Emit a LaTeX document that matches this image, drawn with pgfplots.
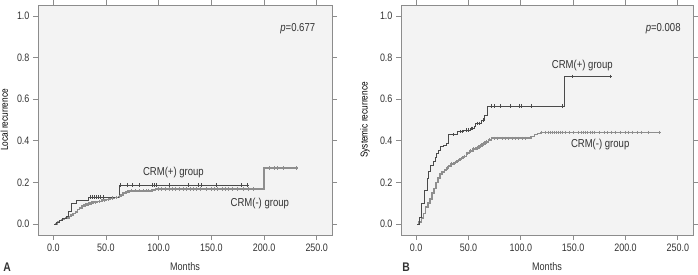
\documentclass[border=0pt]{standalone}
\usepackage{fontspec}
\setmainfont[FakeStretch=0.83]{Liberation Sans}
\usepackage{pgfplots}
\pgfplotsset{compat=1.18}
\definecolor{framec}{HTML}{8C8C8C}
\definecolor{txt}{HTML}{333333}
\definecolor{plusc}{HTML}{4A4A4A}
\definecolor{minusc}{HTML}{8E8E8E}
\definecolor{bg}{HTML}{F3F3F3}
\tikzset{grp/.style={font=\fontsize{11.5}{13}\selectfont, text=txt}}
\pgfplotsset{
  km/.style={
    scale only axis, anchor=south west,
    height=230pt,
    xmin=-14.5, xmax=264.5, ymin=-0.053, ymax=1.053,
    xtick={0,50,100,150,200,250},
    xticklabels={0.0,50.0,100.0,150.0,200.0,250.0},
    ytick={0,0.2,0.4,0.6,0.8,1.0},
    yticklabels={0.0,0.2,0.4,0.6,0.8,1.0},
    tick align=outside, major tick length=5pt,
    tick style={framec, line width=0.7pt},
    axis line style={framec, line width=0.9pt},
    axis background/.style={fill=bg},
    ticklabel style={font=\fontsize{10.8}{12}\selectfont, text=txt},
    label style={font=\fontsize{11}{12}\selectfont, text=txt},
    xlabel=Months,
    xlabel style={at={(axis description cs:0.5,-0.139)}, anchor=center},
    every axis y label/.style={rotate=90, anchor=center},
    clip=false,
  },
  plusline/.style={const plot, plusc, line width=0.7pt, no marks},
  minusline/.style={const plot, minusc, line width=1.7pt, no marks},
  plusmark/.style={only marks, mark=+, mark size=1.7pt, plusc, mark options={line width=0.6pt}},
  minusmark/.style={only marks, mark=+, mark size=1.7pt, minusc, mark options={line width=0.7pt}},
}
\begin{document}
\begin{tikzpicture}
\useasboundingbox (0,0) rectangle (698pt,275pt);
% ---------- Panel A ----------
\begin{axis}[km, at={(38pt,40pt)}, width=294pt,
  ylabel={Local recurrence},
  ylabel style={at={(axis description cs:-0.115,0.5)}}]
\addplot[minusline] coordinates {
(2,0) (4,0.008) (6,0.016) (8,0.022) (10,0.026) (12,0.03) (15,0.036) (17,0.044)
(19,0.05) (21,0.058) (23,0.07) (25,0.078) (27,0.086) (29,0.092) (32,0.096)
(35,0.1) (38,0.104) (42,0.108) (46,0.114) (50,0.118) (54,0.124) (58,0.128)
(62,0.132) (64,0.14) (66,0.148) (69,0.155) (72,0.16) (94,0.165) (97,0.168)
(200,0.27) (232,0.27)};
\addplot[minusmark] coordinates {
(30,0.092) (33,0.096) (36,0.1) (40,0.104) (44,0.108) (48,0.114) (52,0.118)
(56,0.124) (60,0.128) (63,0.132) (70,0.155) (74,0.16) (78,0.16) (82,0.16)
(85,0.16) (88,0.16) (90,0.16) (100,0.168) (103,0.168) (106,0.168) (110,0.168)
(113,0.168) (116,0.168) (120,0.168) (123,0.168) (126,0.168) (130,0.168)
(133,0.168) (136,0.168) (140,0.168) (145,0.168) (150,0.168) (153,0.168)
(156,0.168) (160,0.168) (163,0.168) (166,0.168) (170,0.168) (175,0.168)
(180,0.168) (185,0.168) (190,0.168) (205,0.27) (210,0.27) (213,0.27)
(218,0.27) (231,0.27)};
\addplot[plusline] coordinates {
(1,0) (3,0.009) (6,0.018) (9,0.027) (12,0.036) (14,0.06) (17,0.10) (22,0.115)
(33,0.13) (63,0.1875) (184,0.1875)};
\addplot[plusmark] coordinates {
(35,0.13) (37,0.13) (39,0.13) (41,0.13) (43,0.13) (45,0.13) (47,0.13)
(64,0.1875) (70,0.1875) (75,0.1875) (82,0.1875) (94,0.1875) (96,0.1875)
(98,0.1875) (110,0.1875) (128,0.1875) (138,0.1875) (140,0.1875) (155,0.1875)
(178,0.1875) (184,0.1875)};
\node[grp] at (axis cs:114,0.245) {CRM(+) group};
\node[grp] at (axis cs:196,0.10) {CRM(-) group};
\node[grp] at (axis cs:232,0.9375) {\textit{p}=0.677};
\end{axis}
% ---------- Panel B ----------
\begin{axis}[km, at={(401pt,40pt)}, width=292pt,
  ylabel={Systemic recurrence},
  ylabel style={at={(axis description cs:-0.123,0.5)}}]
\addplot[minusline] coordinates {
(2,0) (3,0.011) (5,0.03) (7,0.05) (9,0.08) (11,0.1) (13,0.12) (15,0.15)
(17,0.17) (19,0.2) (21,0.22) (23,0.24) (25,0.25) (27,0.26) (29,0.27) (31,0.28)
(33,0.29) (36,0.295) (39,0.305) (42,0.315) (45,0.325) (48,0.34) (51,0.35)
(54,0.36) (57,0.365) (60,0.375) (63,0.385) (66,0.395) (69,0.405) (72,0.412)
(107,0.415) (110,0.42) (113,0.43) (116,0.435) (119,0.44) (233,0.44)};
\addplot[minusmark] coordinates {
(30,0.27) (34,0.29) (37,0.295) (40,0.305) (43,0.315) (46,0.325) (49,0.34)
(52,0.35) (55,0.36) (58,0.365) (61,0.375) (64,0.385) (67,0.395) (70,0.405)
(75,0.412) (78,0.412) (82,0.412) (85,0.412) (88,0.412) (92,0.412) (95,0.412)
(98,0.412) (101,0.412) (104,0.412) (120,0.44) (123,0.44) (126,0.44) (128,0.44)
(130,0.44) (132,0.44) (134,0.44) (136,0.44) (138,0.44) (140,0.44) (143,0.44)
(146,0.44) (150,0.44) (155,0.44) (158,0.44) (160,0.44) (162,0.44) (164,0.44)
(166,0.44) (168,0.44) (170,0.44) (175,0.44) (180,0.44) (183,0.44) (186,0.44)
(190,0.44) (195,0.44) (200,0.44) (203,0.44) (207,0.44) (211,0.44) (215,0.44)
(222,0.44) (232,0.44)};
\addplot[plusline] coordinates {
(1,0) (3,0.03) (5,0.1) (8,0.16) (11,0.22) (12,0.255) (14,0.28) (16,0.30)
(18,0.32) (19,0.34) (21,0.355) (23,0.372) (26,0.38) (29,0.39) (31,0.43)
(36,0.432) (39,0.444) (45,0.452) (52,0.46) (56,0.47) (57,0.484) (62,0.5)
(65,0.524) (68,0.567) (142,0.71) (185,0.71)};
\addplot[plusmark] coordinates {
(35,0.43) (42,0.444) (44,0.444) (48,0.452) (50,0.452) (53,0.46) (54,0.46)
(58,0.484) (60,0.484) (64,0.5) (72,0.567) (75,0.567) (80,0.567) (90,0.567)
(99,0.567) (100,0.567) (110,0.567) (140,0.567) (149,0.71) (185,0.71)};
\node[grp] at (axis cs:158.7,0.76) {CRM(+) group};
\node[grp] at (axis cs:175.8,0.38) {CRM(-) group};
\node[grp] at (axis cs:236,0.9375) {\textit{p}=0.008};
\end{axis}
\node[font=\bfseries\fontsize{12.5}{14}\selectfont, text=txt] at (7pt,8pt) {A};
\node[font=\bfseries\fontsize{12.5}{14}\selectfont, text=txt] at (406pt,8pt) {B};
\end{tikzpicture}
\end{document}
